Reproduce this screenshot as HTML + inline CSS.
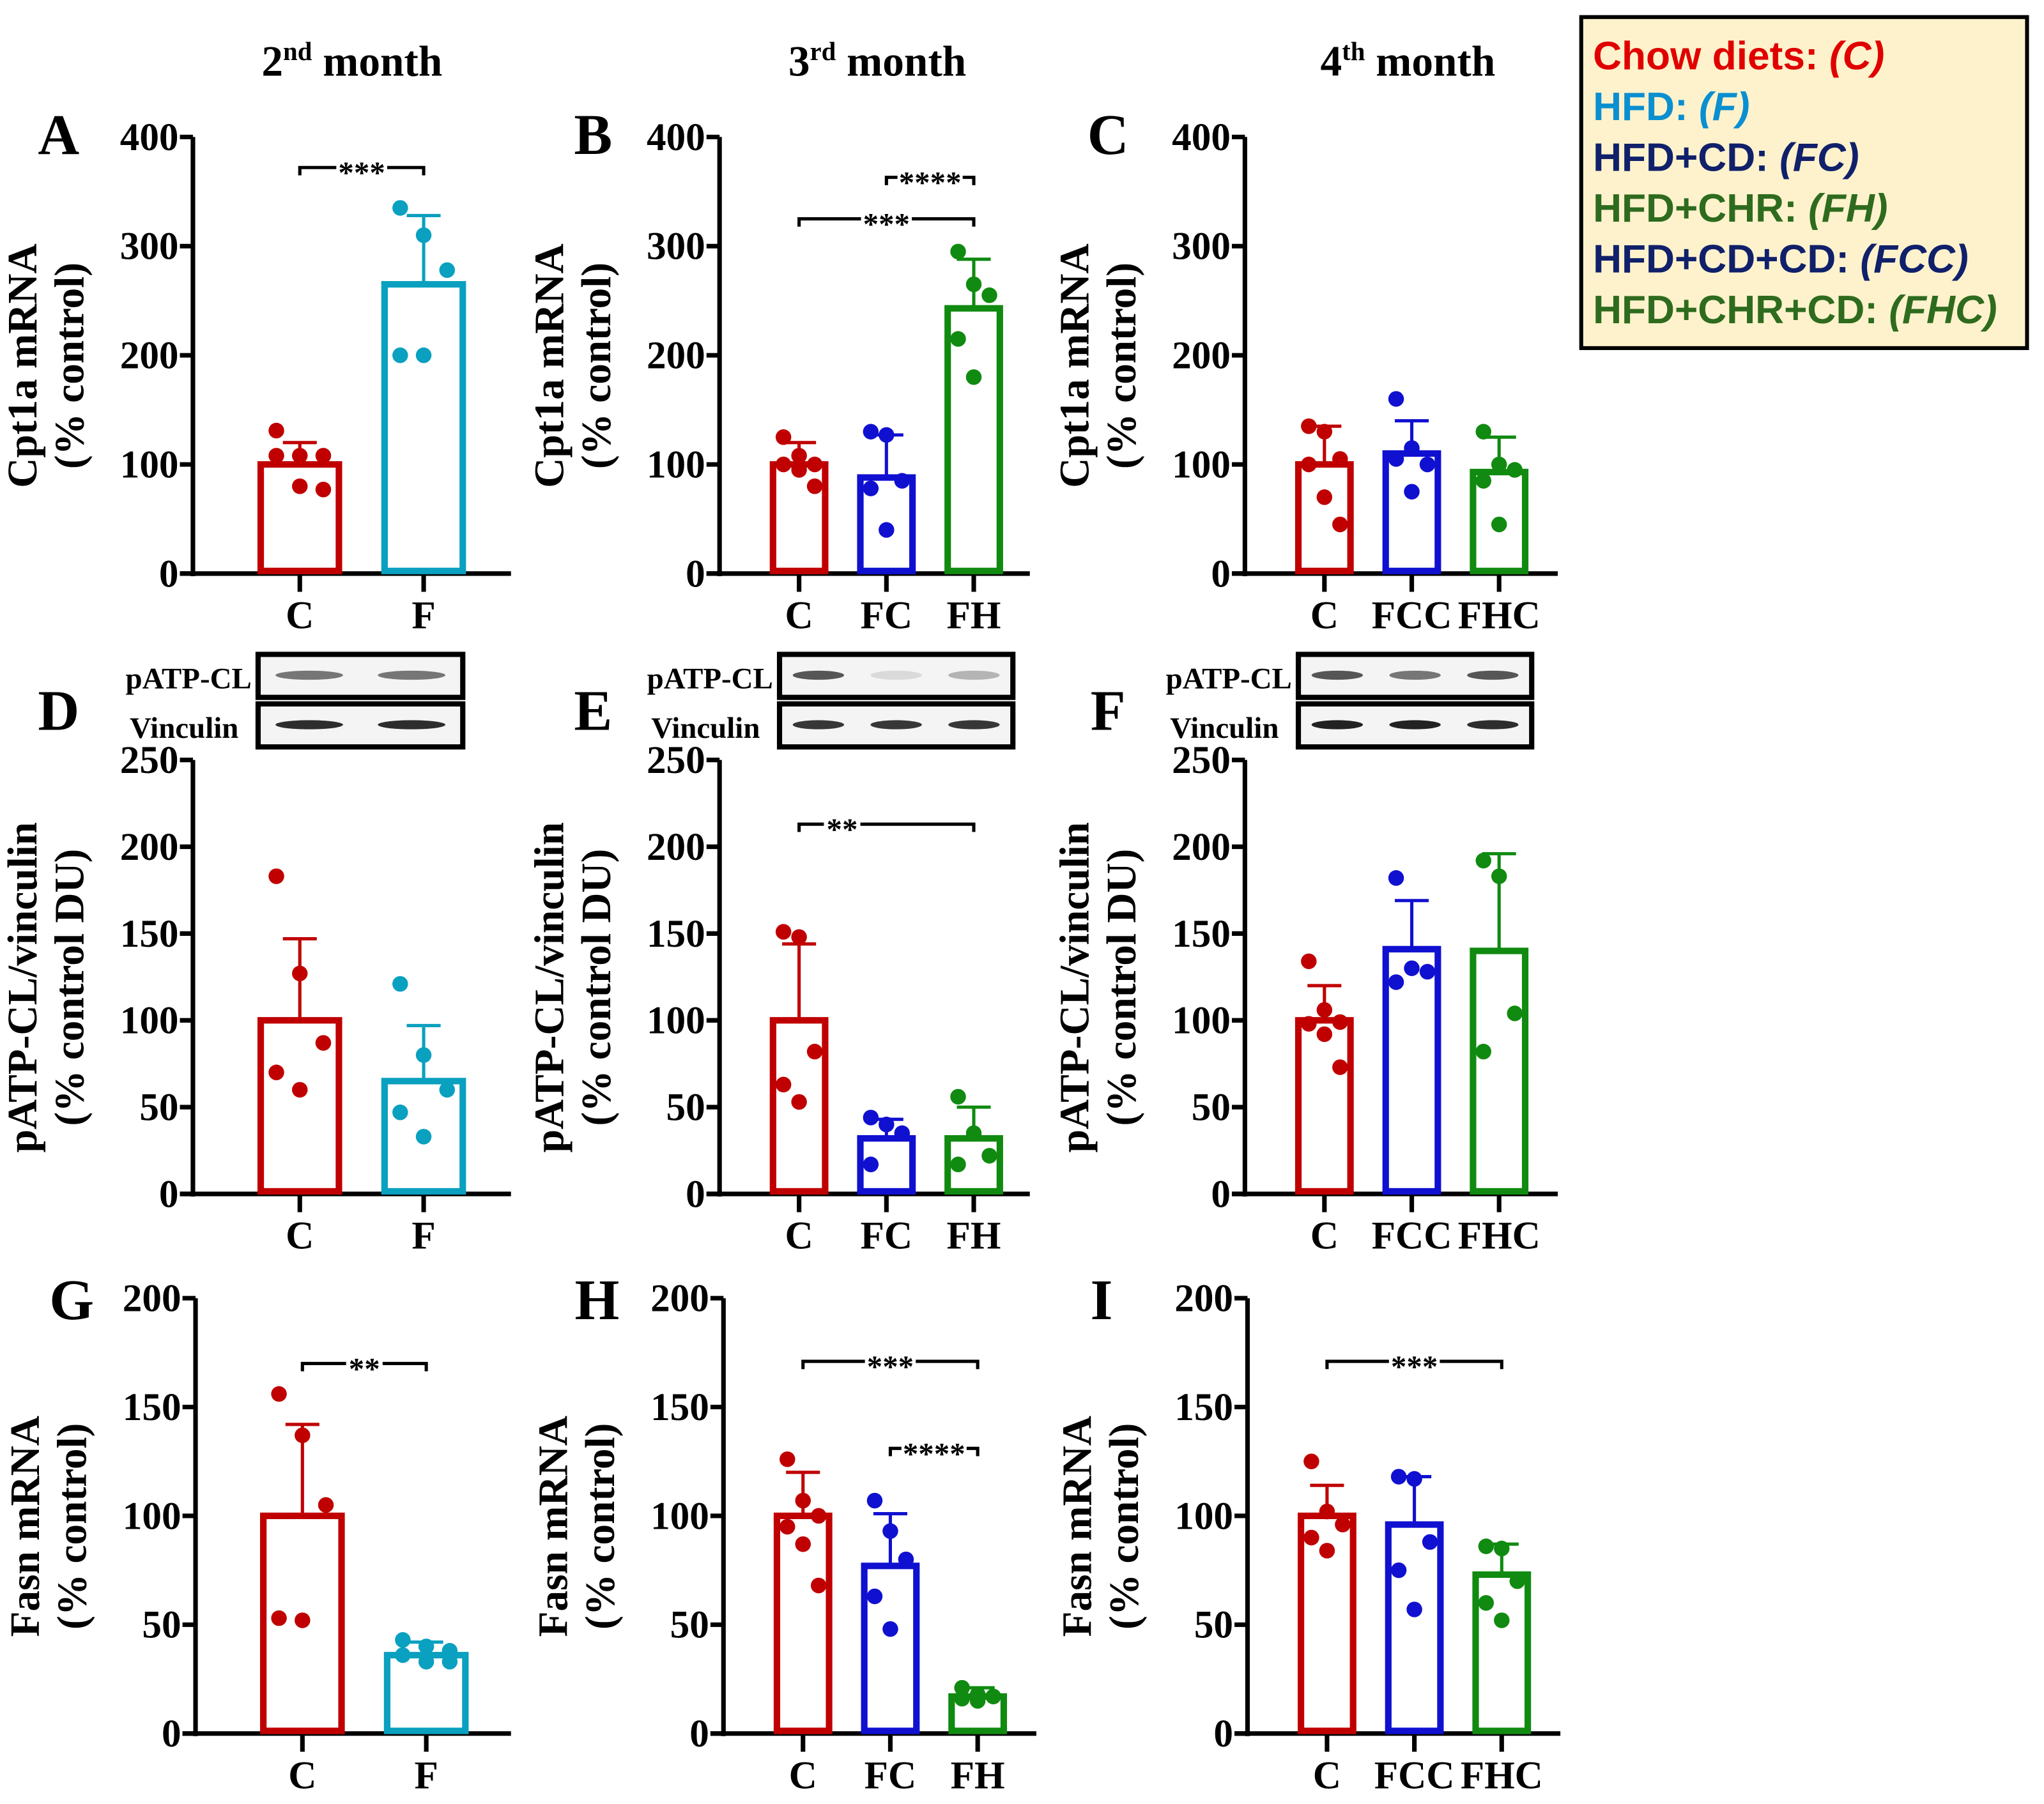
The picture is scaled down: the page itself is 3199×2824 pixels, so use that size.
<!DOCTYPE html>
<html><head><meta charset="utf-8"><style>
html,body{margin:0;padding:0;background:#fff}
svg{display:block}
text{font-family:"Liberation Serif",serif;font-weight:bold}
.leg{font-family:"Liberation Sans",sans-serif;font-weight:bold;font-size:30.5px}
</style></head><body>
<svg id="fig" xmlns="http://www.w3.org/2000/svg" width="3199" height="2824" viewBox="0 0 1568 1384">
<g>
<text x="270" y="58" font-size="33" text-anchor="middle">2<tspan font-size="20" dy="-12">nd</tspan><tspan dy="12"> month</tspan></text>
<text x="673" y="58" font-size="33" text-anchor="middle">3<tspan font-size="20" dy="-12">rd</tspan><tspan dy="12"> month</tspan></text>
<text x="1080" y="58" font-size="33" text-anchor="middle">4<tspan font-size="20" dy="-12">th</tspan><tspan dy="12"> month</tspan></text>
</g>
<g>
<rect x="1213" y="13" width="342" height="254" fill="#fdf2cc" stroke="#000" stroke-width="3"/>
<text class="leg" x="1222" y="53" fill="#e00000">Chow diets: <tspan font-style="italic">(C)</tspan></text>
<text class="leg" x="1222" y="92" fill="#0a8fd0">HFD: <tspan font-style="italic">(F)</tspan></text>
<text class="leg" x="1222" y="131" fill="#10206a">HFD+CD: <tspan font-style="italic">(FC)</tspan></text>
<text class="leg" x="1222" y="170" fill="#2e6b1e">HFD+CHR: <tspan font-style="italic">(FH)</tspan></text>
<text class="leg" x="1222" y="209" fill="#10206a">HFD+CD+CD: <tspan font-style="italic">(FCC)</tspan></text>
<text class="leg" x="1222" y="248" fill="#2e6b1e">HFD+CHR+CD: <tspan font-style="italic">(FHC)</tspan></text>
</g>
</svg>
<script>
// ---- data (top-level arrays) ----
const catsA=["C","F"]; const meanA=[100,265]; const errA=[120,328];
const ptsA=[[131,108,108,108,80,77],[335,310,278,200,200]];
const catsB=["C","FC","FH"]; const meanB=[100,88,243]; const errB=[120,127,288];
const ptsB=[[125,108,100,100,95,80],[130,127,85,78,40],[295,265,255,215,180]];
const catsC=["C","FCC","FHC"]; const meanC=[100,110,93]; const errC=[135,140,125];
const ptsC=[[135,130,105,100,70,45],[160,115,100,105,75],[130,100,95,85,45]];
const catsD=["C","F"]; const meanD=[100,65]; const errD=[147,97];
const ptsD=[[183,127,87,70,60],[121,80,60,47,33]];
const catsE=["C","FC","FH"]; const meanE=[100,32,32]; const errE=[144,43,50];
const ptsE=[[151,148,82,63,53],[44,40,35,17],[56,35,22,17]];
const catsF=["C","FCC","FHC"]; const meanF=[100,141,140]; const errF=[120,169,196];
const ptsF=[[134,106,99,98,92,73],[182,130,128,122],[192,183,104,82]];
const catsG=["C","F"]; const meanG=[100,36]; const errG=[142,42];
const ptsG=[[156,137,105,53,52],[43,40,38,36,33,33]];
const catsH=["C","FC","FH"]; const meanH=[100,77,17]; const errH=[120,101,21];
const ptsH=[[126,107,100,95,87,68],[107,93,80,63,48],[21,18,17,16,15]];
const catsI=["C","FCC","FHC"]; const meanI=[100,96,73]; const errI=[114,118,87];
const ptsI=[[125,102,96,90,84],[118,117,88,75,57],[86,85,70,60,52]];
const ticks400=[0,100,200,300,400]; const ticks250=[0,50,100,150,200,250]; const ticks200=[0,50,100,150,200];

const NS="http://www.w3.org/2000/svg";
const svg=document.getElementById("fig");
const COL={C:"#c00000",F:"#0aa0bf",FC:"#1010d0",FH:"#108a10",FCC:"#1010d0",FHC:"#108a10"};
function el(tag,attrs,parent){const e=document.createElementNS(NS,tag);for(const k in attrs)e.setAttribute(k,attrs[k]);(parent||svg).appendChild(e);return e;}

function panel(o){
  const g=el("g",{});
  
  
  const ymax=o.ticks[o.ticks.length-1];
  const y=v=>o.y0-(v/ymax)*(o.y0-o.ytop);
  const xs=o.cats.map((c,i)=>o.xfirst+i*o.step);
  const xAt=i=>xs[i];
  const ya=el("line",{x1:o.ax,y1:o.ytop,x2:o.ax,y2:o.y0+2,stroke:"#000","stroke-width":3.5},g);
  
  const xa=el("line",{x1:o.ax-10,y1:o.y0,x2:o.axEnd,y2:o.y0,stroke:"#000","stroke-width":3.5},g);
  
  o.ticks.forEach(t=>{
    el("line",{x1:o.ax-10,y1:y(t),x2:o.ax,y2:y(t),stroke:"#000","stroke-width":3.5},g);
    const tl=el("text",{x:o.ax-11,y:y(t)+10,"font-size":30,"text-anchor":"end"},g);tl.textContent=t;
    
  });
  const yt=el("text",{transform:`translate(${o.ax-120},${(o.ytop+o.y0)/2+8}) rotate(-90)`,"font-size":32,"text-anchor":"middle"},g);
  
  const t1=el("tspan",{x:0,dy:0},yt);t1.textContent=o.ytitle[0];
  const t2=el("tspan",{x:0,dy:36},yt);t2.textContent=o.ytitle[1];
  const L=el("text",{x:o.lx,y:o.ly,"font-size":44,"text-anchor":"middle"},g);L.textContent=o.letter;
  
  o.cats.forEach((c,i)=>{
    const cx=xAt(i),col=COL[c],hw=o.bw/2;
    el("line",{x1:cx,y1:o.y0,x2:cx,y2:o.y0+14,stroke:"#000","stroke-width":3.5},g);
    const cl=el("text",{x:cx,y:o.y0+42,"font-size":30,"text-anchor":"middle"},g);cl.textContent=c;
    
    const b=el("rect",{x:cx-hw,y:y(o.mean[i]),width:o.bw,height:o.y0-y(o.mean[i])-2,fill:"none",stroke:col,"stroke-width":5},g);
    
    el("line",{x1:cx,y1:y(o.mean[i]),x2:cx,y2:y(o.err[i]),stroke:col,"stroke-width":2.5},g);
    el("line",{x1:cx-13,y1:y(o.err[i]),x2:cx+13,y2:y(o.err[i]),stroke:col,"stroke-width":2.5},g);
    const p=o.pts[i],m=p.length;
    p.forEach((v,j)=>{
      const off=(m>1)?((j%3)-1)*o.bw*0.3:0;
      const d=el("circle",{cx:cx+off,cy:y(v),r:6,fill:col},g);
      
    });
  });
  (o.sig||[]).forEach(s=>{
    const x1=xAt(s[0]),x2=xAt(s[1]),yy=y(s[2]);
    const sg=el("g",{},g);
    el("polyline",{points:`${x1},${yy+6} ${x1},${yy} ${x2},${yy} ${x2},${yy+6}`,fill:"none",stroke:"#000","stroke-width":2.5},sg);
    const tx=s[4]!=null?s[4]:(x1+x2)/2;
    const w=s[3].length*11+6;
    el("rect",{x:tx-w/2,y:yy-5,width:w,height:10,fill:"#fff"},sg);
    const st=el("text",{x:tx,y:yy+12,"font-size":24,"text-anchor":"middle","font-family":"Liberation Sans"},sg);st.textContent=s[3];
  });
}
const YT1=["Cpt1a mRNA","(% control)"],YT2=["pATP-CL/vinculin","(% control DU)"],YT3=["Fasn mRNA","(% control)"];
panel({letter:"A",lx:45,ly:118,cats:catsA,mean:meanA,err:errA,pts:ptsA,ticks:ticks400,ax:148,axEnd:392,y0:440,ytop:105,xfirst:230,step:95,bw:60,ytitle:YT1,sig:[[0,1,372,"***"]]});
panel({letter:"B",lx:455,ly:118,cats:catsB,mean:meanB,err:errB,pts:ptsB,ticks:ticks400,ax:552,axEnd:790,y0:440,ytop:105,xfirst:613,step:67,bw:40,ytitle:YT1,sig:[[0,2,325,"***"],[1,2,363,"****"]]});
panel({letter:"C",lx:850,ly:118,cats:catsC,mean:meanC,err:errC,pts:ptsC,ticks:ticks400,ax:955,axEnd:1195,y0:440,ytop:105,xfirst:1016,step:67,bw:40,ytitle:YT1});
panel({letter:"D",lx:45,ly:560,cats:catsD,mean:meanD,err:errD,pts:ptsD,ticks:ticks250,ax:148,axEnd:392,y0:916,ytop:583,xfirst:230,step:95,bw:60,ytitle:YT2});
panel({letter:"E",lx:455,ly:560,cats:catsE,mean:meanE,err:errE,pts:ptsE,ticks:ticks250,ax:552,axEnd:790,y0:916,ytop:583,xfirst:613,step:67,bw:40,ytitle:YT2,sig:[[0,2,213,"**",646]]});
panel({letter:"F",lx:850,ly:560,cats:catsF,mean:meanF,err:errF,pts:ptsF,ticks:ticks250,ax:955,axEnd:1195,y0:916,ytop:583,xfirst:1016,step:67,bw:40,ytitle:YT2});
panel({letter:"G",lx:55,ly:1012,cats:catsG,mean:meanG,err:errG,pts:ptsG,ticks:ticks200,ax:150,axEnd:392,y0:1330,ytop:996,xfirst:232,step:95,bw:60,ytitle:YT3,sig:[[0,1,170,"**"]]});
panel({letter:"H",lx:458,ly:1012,cats:catsH,mean:meanH,err:errH,pts:ptsH,ticks:ticks200,ax:555,axEnd:795,y0:1330,ytop:996,xfirst:616,step:67,bw:40,ytitle:YT3,sig:[[0,2,171,"***"],[1,2,131,"****"]]});
panel({letter:"I",lx:845,ly:1012,cats:catsI,mean:meanI,err:errI,pts:ptsI,ticks:ticks200,ax:957,axEnd:1197,y0:1330,ytop:996,xfirst:1018,step:67,bw:40,ytitle:YT3,sig:[[0,2,171,"***"]]});
function blot(x,w,lx,name,bandsP,bandsV){
  const g=el("g",{});
  
  
  [[502,"pATP-CL",bandsP],[540,"Vinculin",bandsV]].forEach((r,k)=>{
    el("rect",{x:x,y:r[0],width:w,height:33,fill:"#f4f4f4",stroke:"#000","stroke-width":4},g);
    const n=r[2].length;
    r[2].forEach((a,i)=>{
      const cx=x+w*(i+0.5)/n;
      el("ellipse",{cx:cx,cy:r[0]+16,rx:w/n*0.33,ry:3.5,fill:"#222","fill-opacity":a},g);
    });
    const t=el("text",{x:lx-(k?10:0),y:r[0]+26,"font-size":23,"text-anchor":"end"},g);t.textContent=r[1];
    
  });
}
blot(198,157,193,"d",[0.6,0.6],[0.95,0.95]);
blot(598,179,593,"e",[0.75,0.12,0.3],[0.9,0.9,0.9]);
blot(996,179,991,"f",[0.75,0.6,0.75],[1,1,0.95]);
</script>
</body></html>
